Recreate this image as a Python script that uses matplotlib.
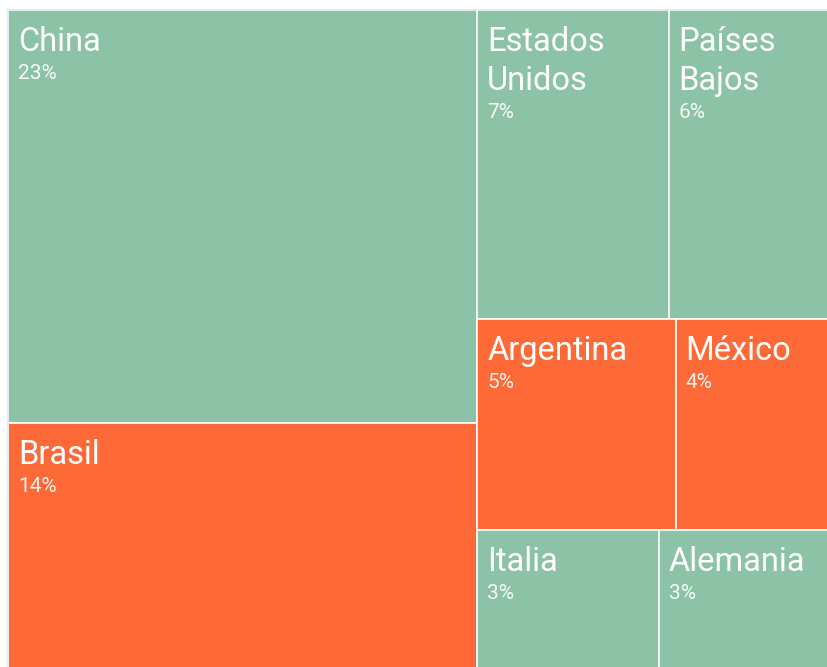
# libraries
import matplotlib
matplotlib.use('Agg')
import matplotlib.pyplot as plt
from matplotlib.patches import Rectangle

# data
countries = ['China', 'Brasil', 'Estados Unidos', 'Países Bajos', 'Argentina', 'México', 'Italia', 'Alemania']
shares = [23.3, 14.3, 7.1, 5.95, 5.05, 3.9, 3.2, 3.0]
groups = ['otros', 'latam', 'otros', 'otros', 'latam', 'latam', 'otros', 'otros']
group_colors = {'otros': '#8cc2a6', 'latam': '#fd6a37'}


def worst(row, w):
    s = sum(row)
    return max(max(w * w * r / (s * s), s * s / (w * w * r)) for r in row)


def layout_row(row, x, y, dx, dy):
    # returns rects for one row and the remaining free rectangle
    s = sum(row)
    out = []
    if dx >= dy:  # column on the left
        w = s / dy
        yy = y
        for r in row:
            h = r / w
            out.append((x, yy, w, h))
            yy += h
        return out, (x + w, y, dx - w, dy)
    h = s / dx  # row on the top
    xx = x
    for r in row:
        w = r / h
        out.append((xx, y, w, h))
        xx += w
    return out, (x, y + h, dx, dy - h)


def squarify(vals, x, y, dx, dy):
    rects = []
    vals = list(vals)
    while vals:
        side = min(dx, dy)
        row = [vals.pop(0)]
        while vals and worst(row + [vals[0]], side) <= worst(row, side):
            row.append(vals.pop(0))
        r, (x, y, dx, dy) = layout_row(row, x, y, dx, dy)
        rects += r
    return rects


# canvas (slightly larger than the visible figure, as in the crop)
W, H = 821.0, 667.0
scale = sum(shares) / (W * H)
norm = [v / scale for v in shares]
rects = squarify(norm, 0, 0, W, H)

fig = plt.figure(figsize=(8.27, 6.67), dpi=100)
ax = fig.add_axes([8 / 827, (667 - 10 - H) / 667, W / 827, H / 667])
ax.set_xlim(0, W)
ax.set_ylim(H, 0)
ax.set_xticks([])
ax.set_yticks([])
for side in ['right', 'bottom']:
    ax.spines[side].set_visible(False)
for side in ['top', 'left']:
    ax.spines[side].set_color('#e2ecf1')
    ax.spines[side].set_linewidth(1.5)

renderer = fig.canvas.get_renderer()
font = 'Roboto'

for (x, y, w, h), name, v, g in zip(rects, countries, shares, groups):
    ax.add_patch(Rectangle((x, y), w, h, facecolor=group_colors[g],
                           edgecolor='white', linewidth=1.2))
    # wrap the name if it does not fit
    t = ax.text(0, 0, name, fontsize=23.5, family=font)
    tw = t.get_window_extent(renderer).width
    t.remove()
    lines = name.split(' ') if tw > w - 20 else [name]
    for i, line in enumerate(lines):
        ax.annotate(line, (x, y), xytext=(10, -41 - 39 * i), textcoords='offset pixels',
                    fontsize=23.5, family=font, color='white', va='baseline', ha='left')
    ax.annotate('%d%%' % round(v), (x, y), xytext=(10, -41 - 39 * (len(lines) - 1) - 28),
                textcoords='offset pixels', fontsize=15, family=font,
                color='white', alpha=0.92, va='baseline', ha='left')

fig.savefig('out.png', dpi=100)
